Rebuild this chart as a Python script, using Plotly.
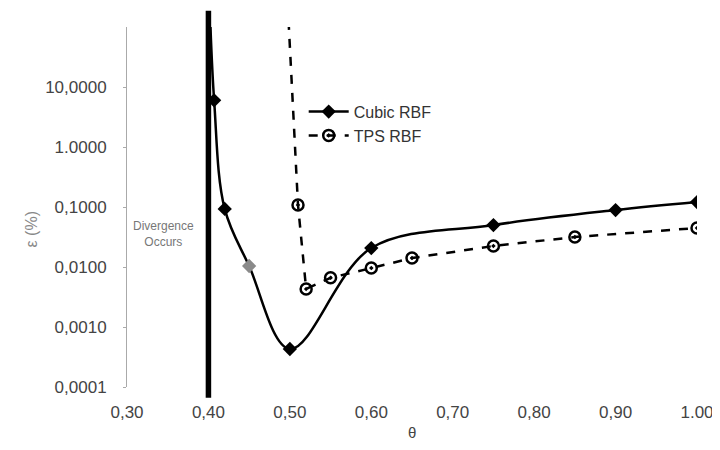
import plotly.graph_objects as go
import math

# Cubic RBF (solid, smoothed, diamonds)
cubic_theta = [0.40, 0.407, 0.42, 0.45, 0.50, 0.60, 0.75, 0.90, 1.00]
cubic_err = [1000, 6.0, 0.093, 0.0104, 0.00043, 0.0207, 0.05, 0.089, 0.121]
cubic_marker_colors = ["black", "black", "black", "#8a8a8a", "black", "black", "black", "black", "black"]

# TPS RBF (dashed, open circles)
tps_theta = [0.495, 0.51, 0.52, 0.55, 0.60, 0.65, 0.75, 0.85, 1.00]
tps_err = [1000, 0.108, 0.0043, 0.0066, 0.0096, 0.0141, 0.0224, 0.0316, 0.0447]

# Axis ticks
y_tickvals = [0.0001, 0.001, 0.01, 0.1, 1, 10]
y_ticktext = ["0,0001", "0,0010", "0,0100", "0,1000", "1.0000", "10,0000"]
x_tickvals = [0.30, 0.40, 0.50, 0.60, 0.70, 0.80, 0.90, 1.00]
x_ticktext = ["0,30", "0,40", "0,50", "0,60", "0,70", "0,80", "0,90", "1.00"]

divergence_theta = 0.40
divergence_label_theta = 0.345
divergence_label_err = 0.035

fig = go.Figure()

fig.add_trace(go.Scatter(
    x=cubic_theta, y=cubic_err, name="Cubic RBF",
    mode="lines+markers",
    line=dict(color="black", width=2.5, shape="spline", smoothing=1.0),
    marker=dict(symbol="diamond", size=11, color=cubic_marker_colors),
))

fig.add_trace(go.Scatter(
    x=tps_theta, y=tps_err, name="TPS RBF",
    mode="lines+markers",
    line=dict(color="black", width=2.5, dash="dash"),
    marker=dict(symbol="circle-open-dot", size=11, color="black",
                line=dict(width=2.5, color="black")),
))

fig.add_shape(type="line", xref="x", yref="paper",
              x0=divergence_theta, x1=divergence_theta, y0=-0.03, y1=1.045,
              line=dict(color="black", width=5.5))

fig.add_annotation(x=divergence_label_theta, y=math.log10(divergence_label_err),
                   xref="x", yref="y",
                   text="Divergence<br>Occurs", showarrow=False,
                   font=dict(size=12, color="#777777", family="Liberation Sans"))

# axis titles
fig.add_annotation(x=(20 - 127) / 570, y=(387 - 230) / 360, xref="paper", yref="paper",
                   text="ε (%)", textangle=-90, showarrow=False,
                   font=dict(size=16, color="#888888"))
fig.add_annotation(x=0.5, y=(387 - 443) / 360, xref="paper", yref="paper",
                   text="θ", showarrow=False,
                   font=dict(size=15, color="#444444"))

# page body has an 8px margin, so the figure is shrunk by 8px each way
fig.update_layout(
    width=712, height=442,
    margin=dict(l=119, r=23, t=19, b=63, autoexpand=False),
    paper_bgcolor="white", plot_bgcolor="white",
    font=dict(family="Liberation Sans", size=17, color="#444444"),
    showlegend=True,
    legend=dict(x=0.31, y=0.812, xanchor="left", yanchor="top",
                bgcolor="rgba(0,0,0,0)", font=dict(size=16, color="#333333"),
                itemwidth=40, tracegroupgap=0),
)

fig.update_xaxes(range=[0.30, 1.00], tickvals=x_tickvals, ticktext=x_ticktext,
                 showgrid=False, zeroline=False, showline=False, automargin=False,
                 ticks="", ticklabelstandoff=13, tickfont=dict(size=17))
fig.update_yaxes(type="log", range=[-4, 2], tickvals=y_tickvals, ticktext=y_ticktext,
                 showgrid=False, zeroline=False, showline=True, linecolor="#aaaaaa",
                 linewidth=1, ticks="outside", ticklen=3, tickcolor="#aaaaaa",
                 automargin=False, ticklabelstandoff=13, tickfont=dict(size=17))

fig.write_html("out.html")
